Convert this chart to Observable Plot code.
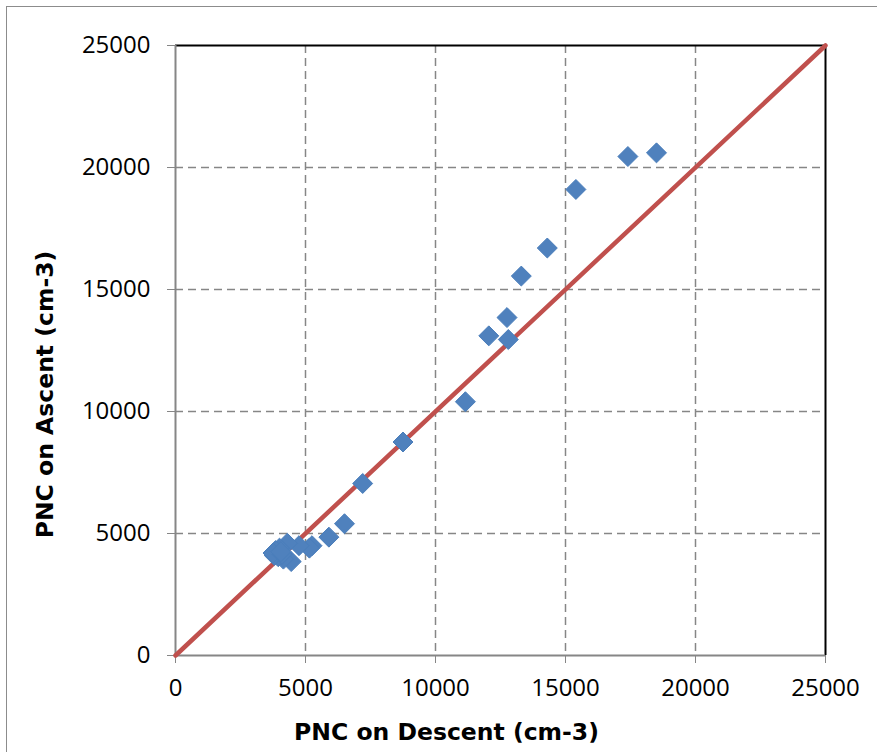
<!DOCTYPE html>
<html>
<head>
<meta charset="utf-8">
<script src="https://cdn.jsdelivr.net/npm/d3@7"></script>
<script src="https://cdn.jsdelivr.net/npm/@observablehq/plot@0.6"></script>
<style>
  html, body { margin: 0; padding: 0; background: #fff; overflow: hidden; }
  #wrap { position: relative; width: 877px; height: 752px; }
  #border { position: absolute; left: 6px; top: 6px; width: 900px; height: 800px;
            border-left: 1.5px solid #8c8c8c; border-top: 1.5px solid #8c8c8c; pointer-events: none; }
</style>
</head>
<body>
<div id="wrap"><div id="border"></div></div>
<script>
// Data
const descent = [18500, 17400, 15400, 14300, 13300, 12750, 12050, 12800, 11150, 8750, 7200, 6500, 5900, 5250, 5150, 4750, 4450, 4300, 4150, 4000, 3950, 3850, 3800, 3750, 4100, 4050];
const ascent  = [20600, 20450, 19100, 16700, 15550, 13850, 13100, 12950, 10400, 8750, 7050, 5400, 4850, 4500, 4400, 4500, 3850, 4600, 3950, 4400, 4050, 4300, 4100, 4200, 4150, 4250];
const lineX = [0, 25000];
const lineY = [0, 25000];
const axisTicks = [0, 5000, 10000, 15000, 20000, 25000];
const gridTicks = [5000, 10000, 15000, 20000];
const xTitle = "PNC on Descent (cm-3)";
const yTitle = "PNC on Ascent (cm-3)";

const points = descent.map((d, i) => ({descent: d, ascent: ascent[i]}));
const line = lineX.map((d, i) => ({x: d, y: lineY[i]}));

const gray = "#868686";
const font = "Open Sans";
const titleFont = "DejaVu Sans";

const chart = Plot.plot({
  width: 877,
  height: 752,
  marginLeft: 175,
  marginRight: 52,
  marginTop: 45,
  marginBottom: 97,
  style: {fontFamily: font, fontSize: "24px", background: "transparent", overflow: "visible"},
  x: {domain: [0, 25000]},
  y: {domain: [0, 25000]},
  marks: [
    Plot.gridX(gridTicks, {stroke: gray, strokeOpacity: 1, strokeWidth: 1.5, strokeDasharray: "8,5"}),
    Plot.gridY(gridTicks, {stroke: gray, strokeOpacity: 1, strokeWidth: 1.5, strokeDasharray: "8,5"}),
    Plot.ruleY([25000], {stroke: "#000", strokeWidth: 2}),
    Plot.ruleX([25000], {stroke: "#000", strokeWidth: 2}),
    Plot.ruleY([0], {stroke: gray, strokeWidth: 2}),
    Plot.ruleX([0], {stroke: gray, strokeWidth: 2}),
    Plot.axisX(axisTicks, {tickSize: 8, tickPadding: 15, stroke: gray, fill: "#000", fontSize: 24, tickFormat: d => String(d), label: null}),
    Plot.axisY(axisTicks, {tickSize: 8, tickPadding: 17, stroke: gray, fill: "#000", fontSize: 24, tickFormat: d => String(d), label: null}),
    Plot.line(line, {x: "x", y: "y", stroke: "#C0504D", strokeWidth: 4.5}),
    Plot.dot(points, {x: "descent", y: "ascent", symbol: "diamond2", r: 9, fill: "#4F81BD", stroke: "#4A7EBB", strokeWidth: 1}),
    Plot.text([xTitle], {frameAnchor: "bottom", dx: -54, dy: 77, text: d => d, fontFamily: titleFont, fontSize: 23.5, fontWeight: "bold", fill: "#000", textAnchor: "middle", lineAnchor: "middle"}),
    Plot.text([yTitle], {frameAnchor: "left", dx: -130, dy: 44, rotate: -90, text: d => d, fontFamily: titleFont, fontSize: 23.5, fontWeight: "bold", fill: "#000", textAnchor: "middle", lineAnchor: "middle"})
  ]
});
document.getElementById("wrap").appendChild(chart);
</script>
</body>
</html>
